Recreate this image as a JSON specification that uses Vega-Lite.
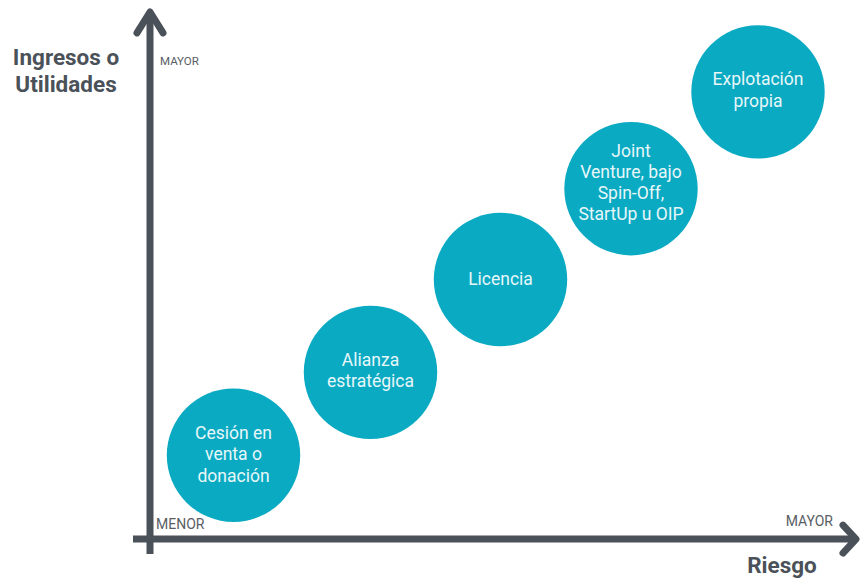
{
  "$schema": "https://vega.github.io/schema/vega-lite/v6.json",
  "width": 862,
  "height": 578,
  "autosize": {"type": "fit", "contains": "padding"},
  "padding": 0,
  "background": "white",
  "config": {"view": {"stroke": null}, "font": "Roboto"},
  "datasets": {
    "circles": [
      {"riesgo": 0.835, "ingresos": 0.84, "label": "Cesión en\nventa o\ndonación"},
      {"riesgo": 2.205, "ingresos": 1.67, "label": "Alianza\nestratégica"},
      {"riesgo": 3.505, "ingresos": 2.60, "label": "Licencia"},
      {"riesgo": 4.81, "ingresos": 3.51, "label": "Joint\nVenture, bajo\nSpin-Off,\nStartUp u OIP"},
      {"riesgo": 6.08, "ingresos": 4.48, "label": "Explotación\npropia"}
    ],
    "shafts": [
      {"x": 0, "x2": 0, "y": -0.15, "y2": 5.25},
      {"x": -0.17, "x2": 7.04, "y": 0, "y2": 0}
    ],
    "heads": [
      {"seg": "up", "o": 1, "x": -0.13, "y": 5.07},
      {"seg": "up", "o": 2, "x": 0, "y": 5.28},
      {"seg": "up", "o": 3, "x": 0.13, "y": 5.07},
      {"seg": "right", "o": 1, "x": 6.93, "y": 0.14},
      {"seg": "right", "o": 2, "x": 7.06, "y": 0},
      {"seg": "right", "o": 3, "x": 6.93, "y": -0.14}
    ],
    "titles": [
      {"x": -0.84, "y": 4.695, "text": "Ingresos o\nUtilidades"}
    ],
    "xtitle": [
      {"x": 6.32, "y": -0.27, "text": "Riesgo"}
    ],
    "leftmarks": [
      {"x": 0.10, "y": 4.78, "text": "MAYOR"}
    ],
    "origin": [
      {"x": 0.06, "y": 0.14, "text": "MENOR"}
    ],
    "rightmarks": [
      {"x": 6.83, "y": 0.17, "text": "MAYOR"}
    ]
  },
  "layer": [
    {
      "data": {"name": "shafts"},
      "mark": {"type": "rule", "color": "#4b5158", "strokeWidth": 7, "strokeCap": "butt"},
      "encoding": {
        "x": {"field": "x", "type": "quantitative", "scale": {"domain": [-1.5, 7.12], "nice": false, "zero": false}, "axis": null},
        "x2": {"field": "x2"},
        "y": {"field": "y", "type": "quantitative", "scale": {"domain": [-0.38, 5.40], "nice": false, "zero": false}, "axis": null},
        "y2": {"field": "y2"}
      }
    },
    {
      "data": {"name": "heads"},
      "mark": {"type": "line", "color": "#4b5158", "strokeWidth": 7, "strokeCap": "round", "strokeJoin": "round"},
      "encoding": {
        "x": {"field": "x", "type": "quantitative"},
        "y": {"field": "y", "type": "quantitative"},
        "detail": {"field": "seg"},
        "order": {"field": "o", "type": "quantitative"}
      }
    },
    {
      "data": {"name": "circles"},
      "mark": {"type": "circle", "color": "#0aaac3", "opacity": 1, "size": 17800},
      "encoding": {
        "x": {"field": "riesgo", "type": "quantitative"},
        "y": {"field": "ingresos", "type": "quantitative"}
      }
    },
    {
      "data": {"name": "circles"},
      "transform": [{"filter": {"field": "label", "equal": "Licencia"}}],
      "mark": {"type": "text", "color": "#e8f7f9", "fontSize": 17.5, "lineBreak": "\n", "lineHeight": 21.5, "align": "center", "baseline": "middle", "font": "Roboto"},
      "encoding": {
        "x": {"field": "riesgo", "type": "quantitative"},
        "y": {"field": "ingresos", "type": "quantitative"},
        "text": {"field": "label"}
      }
    },
    {
      "data": {"name": "circles"},
      "transform": [{"filter": {"field": "label", "oneOf": ["Alianza\nestratégica", "Explotación\npropia"]}}],
      "mark": {"type": "text", "color": "#e8f7f9", "fontSize": 17.5, "lineBreak": "\n", "lineHeight": 21.5, "align": "center", "baseline": "middle", "dy": -11.5, "font": "Roboto"},
      "encoding": {
        "x": {"field": "riesgo", "type": "quantitative"},
        "y": {"field": "ingresos", "type": "quantitative"},
        "text": {"field": "label"}
      }
    },
    {
      "data": {"name": "circles"},
      "transform": [{"filter": {"field": "label", "equal": "Cesión en\nventa o\ndonación"}}],
      "mark": {"type": "text", "color": "#e8f7f9", "fontSize": 17.5, "lineBreak": "\n", "lineHeight": 21.5, "align": "center", "baseline": "middle", "dy": -21.5, "font": "Roboto"},
      "encoding": {
        "x": {"field": "riesgo", "type": "quantitative"},
        "y": {"field": "ingresos", "type": "quantitative"},
        "text": {"field": "label"}
      }
    },
    {
      "data": {"name": "circles"},
      "transform": [{"filter": {"field": "label", "equal": "Joint\nVenture, bajo\nSpin-Off,\nStartUp u OIP"}}],
      "mark": {"type": "text", "color": "#e8f7f9", "fontSize": 17.5, "lineBreak": "\n", "lineHeight": 21.2, "align": "center", "baseline": "middle", "dy": -37, "font": "Roboto"},
      "encoding": {
        "x": {"field": "riesgo", "type": "quantitative"},
        "y": {"field": "ingresos", "type": "quantitative"},
        "text": {"field": "label"}
      }
    },
    {
      "data": {"name": "titles"},
      "mark": {"type": "text", "color": "#4b5158", "fontSize": 22.5, "fontWeight": "bold", "lineBreak": "\n", "lineHeight": 27, "align": "center", "baseline": "middle", "dy": -12, "font": "Roboto"},
      "encoding": {
        "x": {"field": "x", "type": "quantitative"},
        "y": {"field": "y", "type": "quantitative"},
        "text": {"field": "text"}
      }
    },
    {
      "data": {"name": "xtitle"},
      "mark": {"type": "text", "color": "#4b5158", "fontSize": 22.5, "fontWeight": "bold", "align": "center", "baseline": "middle", "font": "Roboto"},
      "encoding": {
        "x": {"field": "x", "type": "quantitative"},
        "y": {"field": "y", "type": "quantitative"},
        "text": {"field": "text"}
      }
    },
    {
      "data": {"name": "leftmarks"},
      "mark": {"type": "text", "color": "#595e64", "fontSize": 11.5, "align": "left", "baseline": "middle", "font": "Roboto"},
      "encoding": {
        "x": {"field": "x", "type": "quantitative"},
        "y": {"field": "y", "type": "quantitative"},
        "text": {"field": "text"}
      }
    },
    {
      "data": {"name": "origin"},
      "mark": {"type": "text", "color": "#595e64", "fontSize": 14, "align": "left", "baseline": "middle", "font": "Roboto"},
      "encoding": {
        "x": {"field": "x", "type": "quantitative"},
        "y": {"field": "y", "type": "quantitative"},
        "text": {"field": "text"}
      }
    },
    {
      "data": {"name": "rightmarks"},
      "mark": {"type": "text", "color": "#595e64", "fontSize": 14, "align": "right", "baseline": "middle", "font": "Roboto"},
      "encoding": {
        "x": {"field": "x", "type": "quantitative"},
        "y": {"field": "y", "type": "quantitative"},
        "text": {"field": "text"}
      }
    }
  ]
}
